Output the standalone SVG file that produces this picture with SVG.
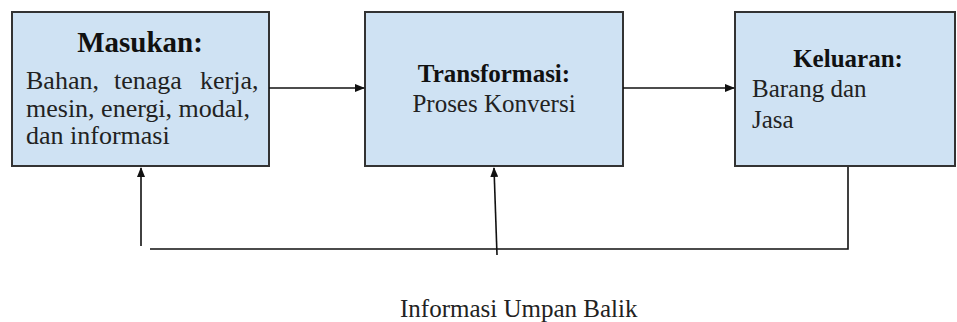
<svg xmlns="http://www.w3.org/2000/svg" width="957" height="322" viewBox="0 0 957 322">
<defs>
<style>
.box{fill:#cfe2f3;stroke:#333;stroke-width:2}
.t{font-family:"Liberation Serif","Times New Roman",serif;fill:#222}
.b{font-weight:bold;fill:#111}
.c{fill:none;stroke:#111;stroke-width:1.6}
</style>
<marker id="ah" markerWidth="10" markerHeight="8" refX="9" refY="4" orient="auto" markerUnits="userSpaceOnUse">
<path d="M0,0 L10,4 L0,8 Z" fill="#111"/>
</marker>
</defs>
<rect width="957" height="322" fill="#fff"/>
<g id="masukan">
<rect class="box" x="12" y="12" width="257" height="154"/>
<text class="t b" x="140" y="52" font-size="29" text-anchor="middle">Masukan:</text>
<text class="t" font-size="26" y="89"><tspan x="26">Bahan,</tspan><tspan x="114">tenaga</tspan><tspan x="200">kerja,</tspan></text>
<text class="t" font-size="26" x="26" y="117">mesin, energi, modal,</text>
<text class="t" font-size="26" x="26" y="144">dan informasi</text>
</g>
<g id="transformasi">
<rect class="box" x="365" y="12" width="258" height="154"/>
<text class="t b" x="494" y="82" font-size="25" text-anchor="middle">Transformasi:</text>
<text class="t" x="494" y="112" font-size="25" text-anchor="middle">Proses Konversi</text>
</g>
<g id="keluaran">
<rect class="box" x="735" y="12" width="220" height="154"/>
<text class="t b" x="848" y="67" font-size="25" text-anchor="middle">Keluaran:</text>
<text class="t" x="752" y="97" font-size="25">Barang dan</text>
<text class="t" x="752" y="128" font-size="25">Jasa</text>
</g>
<g id="connectors">
<line class="c" x1="269" y1="88" x2="364" y2="88" marker-end="url(#ah)"/>
<line class="c" x1="623" y1="88" x2="734" y2="88" marker-end="url(#ah)"/>
<polyline class="c" points="848,167 848,249 150,249"/>
<line class="c" x1="141" y1="246" x2="141" y2="168" marker-end="url(#ah)"/>
<line class="c" x1="497" y1="255" x2="494" y2="168" marker-end="url(#ah)"/>
</g>
<text class="t" x="400" y="317" font-size="25">Informasi Umpan Balik</text>
</svg>
